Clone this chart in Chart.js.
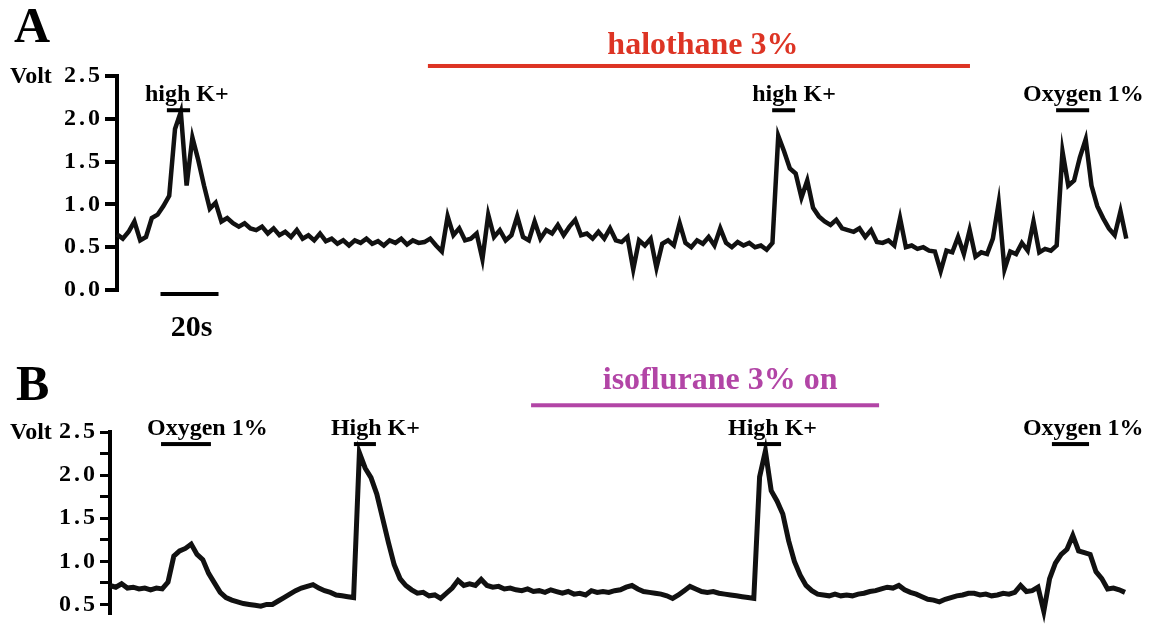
<!DOCTYPE html>
<html>
<head>
<meta charset="utf-8">
<script src="https://cdn.jsdelivr.net/npm/chart.js@4.4.1/dist/chart.umd.min.js"></script>
<style>
  html, body { margin: 0; padding: 0; background: #fff; }
  body { width: 1152px; height: 630px; position: relative; overflow: hidden; }
  .panel { position: absolute; left: 0; width: 1152px; }
  #panelA { top: 0; height: 340px; }
  #panelB { top: 340px; height: 290px; }
</style>
</head>
<body>
<div class="panel" id="panelA"><canvas id="chartA"></canvas></div>
<div class="panel" id="panelB"><canvas id="chartB"></canvas></div>
<script>
const SERIF = '"Liberation Serif", "Times New Roman", serif';
const stepSec = 2; // one sample every 2 s

// panel A trace (volts)
const voltsA = [
  0.65, 0.60, 0.68, 0.80, 0.58, 0.62, 0.84, 0.88, 0.98, 1.10,
  1.88, 2.08, 1.22, 1.78, 1.52, 1.22, 0.95, 1.02, 0.80, 0.84,
  0.78, 0.74, 0.78, 0.72, 0.70, 0.74, 0.66, 0.72, 0.64, 0.68,
  0.62, 0.70, 0.60, 0.64, 0.58, 0.66, 0.57, 0.60, 0.54, 0.58,
  0.52, 0.58, 0.55, 0.60, 0.54, 0.57, 0.52, 0.58, 0.55, 0.60,
  0.53, 0.58, 0.55, 0.56, 0.60, 0.52, 0.45, 0.86, 0.64, 0.72,
  0.58, 0.60, 0.66, 0.36, 0.88, 0.62, 0.70, 0.58, 0.64, 0.86,
  0.62, 0.58, 0.80, 0.60, 0.70, 0.66, 0.76, 0.64, 0.74, 0.82,
  0.64, 0.66, 0.60, 0.68, 0.60, 0.72, 0.58, 0.56, 0.62, 0.24,
  0.58, 0.52, 0.60, 0.26, 0.54, 0.58, 0.52, 0.78, 0.55, 0.50,
  0.58, 0.54, 0.62, 0.52, 0.72, 0.55, 0.50, 0.56, 0.52, 0.55,
  0.50, 0.52, 0.47, 0.55, 1.80, 1.62, 1.42, 1.36, 1.08, 1.28,
  0.96, 0.86, 0.80, 0.76, 0.82, 0.72, 0.70, 0.68, 0.72, 0.62,
  0.70, 0.56, 0.55, 0.58, 0.52, 0.84, 0.50, 0.52, 0.48, 0.50,
  0.46, 0.45, 0.22, 0.46, 0.44, 0.62, 0.42, 0.70, 0.39, 0.44,
  0.42, 0.60, 1.02, 0.24, 0.45, 0.42, 0.55, 0.46, 0.80, 0.44,
  0.48, 0.46, 0.52, 1.62, 1.22, 1.28, 1.55, 1.76, 1.22, 0.98,
  0.84, 0.72, 0.64, 0.92, 0.60
];

// panel B trace (volts)
const voltsB = [
  0.72, 0.70, 0.74, 0.69, 0.70, 0.68, 0.69, 0.67, 0.69, 0.68,
  0.76, 1.06, 1.12, 1.15, 1.20, 1.08, 1.02, 0.86, 0.75, 0.64,
  0.58, 0.55, 0.53, 0.51, 0.50, 0.49, 0.48, 0.50, 0.50, 0.54,
  0.58, 0.62, 0.66, 0.69, 0.71, 0.73, 0.69, 0.66, 0.64, 0.61,
  0.60, 0.59, 0.58, 2.26, 2.08, 1.97, 1.78, 1.50, 1.22, 0.96,
  0.80, 0.72, 0.67, 0.63, 0.64, 0.60, 0.61, 0.57, 0.63, 0.69,
  0.78, 0.72, 0.74, 0.72, 0.79, 0.72, 0.70, 0.71, 0.68, 0.69,
  0.67, 0.66, 0.68, 0.65, 0.66, 0.64, 0.67, 0.65, 0.63, 0.65,
  0.62, 0.63, 0.61, 0.66, 0.64, 0.65, 0.64, 0.66, 0.67, 0.70,
  0.72, 0.68, 0.65, 0.64, 0.63, 0.62, 0.60, 0.57, 0.61, 0.66,
  0.71, 0.68, 0.65, 0.64, 0.65, 0.63, 0.62, 0.61, 0.60, 0.59,
  0.58, 0.57, 1.98, 2.28, 1.82, 1.70, 1.55, 1.24, 1.00, 0.84,
  0.72, 0.66, 0.62, 0.61, 0.60, 0.62, 0.60, 0.61, 0.60, 0.62,
  0.63, 0.65, 0.66, 0.68, 0.70, 0.69, 0.72, 0.67, 0.64, 0.62,
  0.59, 0.56, 0.55, 0.53, 0.56, 0.58, 0.60, 0.61, 0.63, 0.63,
  0.61, 0.62, 0.60, 0.61, 0.63, 0.62, 0.64, 0.72, 0.65, 0.66,
  0.70, 0.42, 0.80, 0.98, 1.08, 1.14, 1.30, 1.12, 1.10, 1.08,
  0.88, 0.80, 0.68, 0.69, 0.67, 0.64
];

// y ticks
const ticksA = [0.0, 0.5, 1.0, 1.5, 2.0, 2.5];
const ticksB = [0.5, 0.75, 1.0, 1.25, 1.5, 1.75, 2.0, 2.25, 2.5];
const labelledB = [0.5, 1.0, 1.5, 2.0, 2.5];
const yUnit = 'Volt';

// stimuli (seconds from start of trace)
const stimA = [
  { label: 'high K+', from: 17.2, to: 25.2 },
  { label: 'high K+', from: 225.9, to: 233.8 },
  { label: 'Oxygen 1%', from: 323.8, to: 335.2 }
];
const stimB = [
  { label: 'Oxygen 1%', from: 17.6, to: 34.8 },
  { label: 'High K+', from: 84.1, to: 91.7 },
  { label: 'High K+', from: 223.1, to: 231.4 },
  { label: 'Oxygen 1%', from: 324.8, to: 337.6 }
];
const drugA = { label: 'halothane 3%', from: 107.2, to: 294.1 };
const drugB = { label: 'isoflurane 3% on', from: 145.2, to: 265.2 };
const scaleBarSec = 20;

// wide-set tick numbers like the original figure
const tickSpacing = {
  id: 'tickSpacing',
  beforeDraw(chart) { chart.ctx.letterSpacing = '3px'; },
  beforeDatasetsDraw(chart) { chart.ctx.letterSpacing = '0px'; }
};

// draws panel letter, unit, drug line, stimulus bars and the time scale bar
const markers = {
  id: 'markers',
  afterDraw(chart, args, o) {
    const { ctx, scales: { x, y } } = chart;
    ctx.save();
    ctx.letterSpacing = '0px';
    ctx.textBaseline = 'alphabetic';

    ctx.fillStyle = '#000';
    ctx.font = `bold 50px ${SERIF}`;
    ctx.textAlign = 'left';
    ctx.fillText(o.letter, o.letterX, o.letterY);

    // unit next to the top tick label
    ctx.font = `bold 24px ${SERIF}`;
    ctx.textBaseline = 'middle';
    ctx.fillText(yUnit, o.unitX, y.getPixelForValue(2.5) + 1);
    ctx.textBaseline = 'alphabetic';

    const dx0 = x.getPixelForValue(o.drug.from);
    const dx1 = x.getPixelForValue(o.drug.to);
    const dy = y.getPixelForValue(o.drugLevel);
    ctx.fillStyle = o.drugColor;
    ctx.fillRect(dx0, dy - 2, dx1 - dx0, 4);
    ctx.font = `bold 32px ${SERIF}`;
    ctx.textAlign = 'center';
    ctx.fillText(o.drug.label, (dx0 + dx1) / 2 + o.drugNudge, dy - o.drugGap);

    ctx.fillStyle = '#000';
    ctx.font = `bold 24px ${SERIF}`;
    ctx.textAlign = 'left';
    const sy = y.getPixelForValue(o.stimLevel);
    o.stims.forEach((s, k) => {
      const sx0 = x.getPixelForValue(s.from);
      const sx1 = x.getPixelForValue(s.to);
      ctx.fillRect(sx0, sy - 2, sx1 - sx0, 4);
      ctx.fillText(s.label, sx0 - o.labelNudge[k], sy - 9);
    });

    if (o.scaleBar) {
      const bx0 = x.getPixelForValue(o.scaleBar.from);
      const bx1 = x.getPixelForValue(o.scaleBar.from + scaleBarSec);
      const by = y.getPixelForValue(0) + 4;
      ctx.fillRect(bx0, by - 2, bx1 - bx0, 4);
      ctx.font = `bold 30px ${SERIF}`;
      ctx.textAlign = 'center';
      ctx.fillText(scaleBarSec + 's', (bx0 + bx1) / 2 + 2, by + 42);
    }
    ctx.restore();
  }
};

function makeChart(id, volts, yTicks, labelled, yMin, yMax, xMax, leftPx, pad, axis, markerOpts) {
  const points = volts.map((v, i) => ({ x: i * stepSec, y: v }));
  return new Chart(document.getElementById(id), {
    type: 'line',
    plugins: [tickSpacing, markers],
    data: {
      datasets: [{
        data: points,
        borderColor: '#111',
        borderWidth: axis.lineWidth,
        borderJoinStyle: 'miter',
        pointRadius: 0,
        tension: 0,
        clip: false
      }]
    },
    options: {
      responsive: true,
      maintainAspectRatio: false,
      animation: false,
      layout: { padding: pad },
      plugins: { legend: { display: false }, tooltip: { enabled: false }, markers: markerOpts },
      scales: {
        x: { type: 'linear', display: false, min: 0, max: xMax },
        y: {
          min: yMin,
          max: yMax,
          afterFit: (scale) => { scale.width = leftPx; },
          afterBuildTicks: (scale) => { scale.ticks = yTicks.map(v => ({ value: v })); },
          border: { display: true, color: '#000', width: 4 },
          grid: { drawOnChartArea: false, drawTicks: true, tickLength: axis.tickLength, lineWidth: axis.tickWidth, color: '#000' },
          ticks: {
            autoSkip: false,
            padding: 2,
            color: '#000',
            font: { family: 'Liberation Serif', weight: 'bold', size: 24 },
            callback: (v) => labelled.includes(v) ? v.toFixed(1) : ''
          }
        }
      }
    }
  });
}

makeChart('chartA', voltsA, ticksA, ticksA, 0, 2.5, 347.9, 117,
  { left: 0, top: 76, right: 26, bottom: 50 },
  { tickLength: 12, tickWidth: 4, lineWidth: 4.5 },
  {
    letter: 'A', letterX: 14, letterY: 42, unitX: 10,
    drug: drugA, drugColor: '#dd3424', drugLevel: 2.617, drugGap: 12, drugNudge: 4,
    stims: stimA, stimLevel: 2.1, labelNudge: [22, 20, 33],
    scaleBar: { from: 15 }
  });

makeChart('chartB', voltsB, ticksB, labelledB, 0.394, 2.5, 350, 110,
  { left: 0, top: 92, right: 27, bottom: 0 },
  { tickLength: 10, tickWidth: 3, lineWidth: 5 },
  {
    letter: 'B', letterX: 16, letterY: 60, unitX: 10,
    drug: drugB, drugColor: '#b245a6', drugLevel: 2.81, drugGap: 16, drugNudge: 15,
    stims: stimB, stimLevel: 2.36, labelNudge: [14, 23, 29, 29]
  });
</script>
</body>
</html>
